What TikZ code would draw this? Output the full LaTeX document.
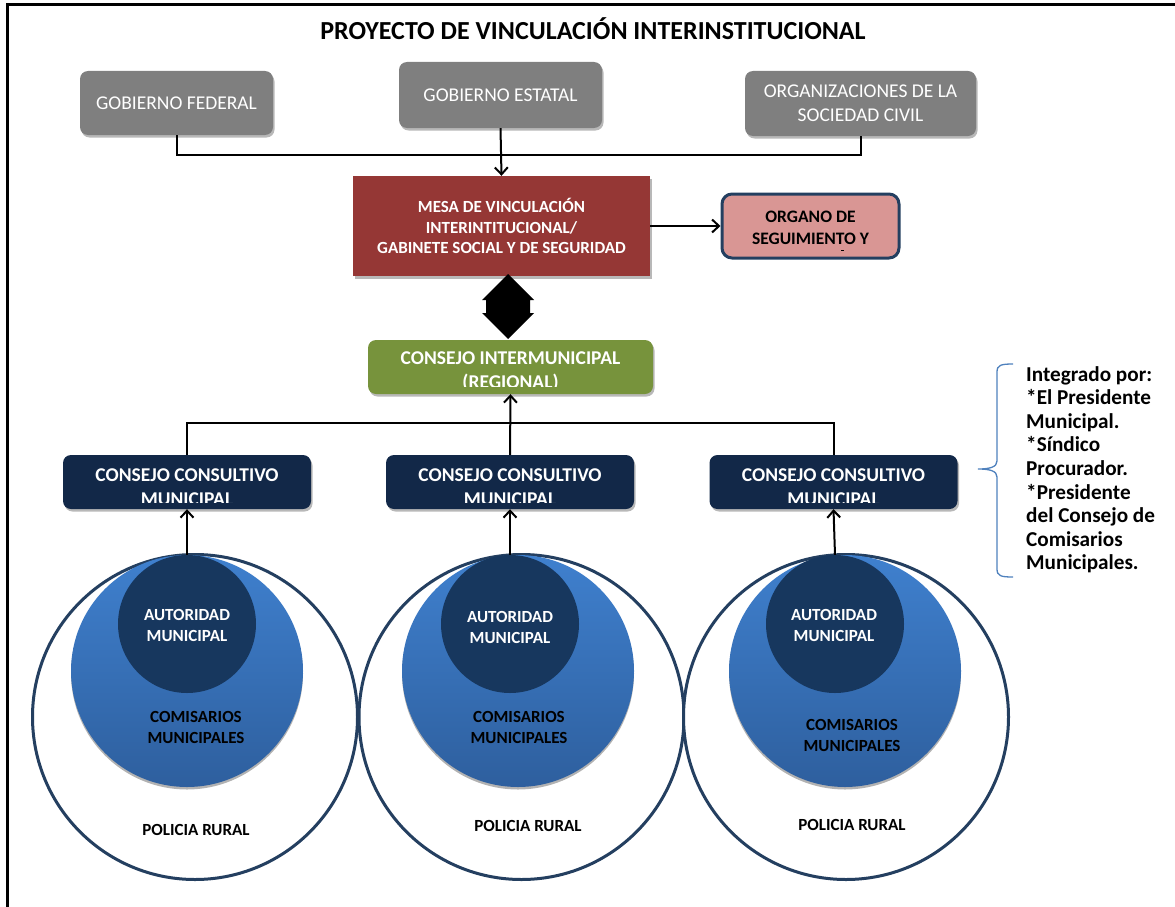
\documentclass[tikz,border=0pt]{standalone}
\usepackage{fontspec}
\setmainfont{Carlito}
\usetikzlibrary{arrows.meta,shadows,calc}

\definecolor{boxgray}{HTML}{7F7F7F}
\definecolor{mesared}{HTML}{953735}
\definecolor{organopink}{HTML}{D99694}
\definecolor{framenavy}{HTML}{243F60}
\definecolor{regiongreen}{HTML}{77933C}
\definecolor{consnavy}{HTML}{122848}
\definecolor{authblue}{HTML}{17375E}
\definecolor{comtop}{HTML}{3F80CE}
\definecolor{combot}{HTML}{2E5F9E}
\definecolor{bracblue}{HTML}{4F81BD}

\newcommand{\fs}[2]{\fontsize{#1}{#2}\selectfont}

\begin{document}
\begin{tikzpicture}[x=1pt,y=-1pt,
  conn/.style={line width=2pt,black},
  arr/.style={conn,-{Straight Barb[length=7pt,width=13pt]}},
  softshadow/.style={drop shadow={shadow xshift=1.5pt,shadow yshift=-2.5pt,fill=black,opacity=0.28}},
  govbox/.style={rounded corners=8pt,fill=boxgray,text=white,inner sep=0pt,
    align=center,font=\fs{19.5}{24},softshadow},
  mesabox/.style={fill=mesared,text=white,inner sep=0pt,align=center,
    font=\bfseries\fs{17}{20.5},softshadow},
  organobox/.style={rounded corners=10pt,fill=organopink,draw=framenavy,line width=3pt,
    inner sep=0pt,align=center,font=\bfseries\fs{17.5}{22}},
  regionbox/.style={rounded corners=8pt,fill=regiongreen,inner sep=0pt,softshadow},
  consbox/.style={rounded corners=8pt,fill=consnavy,inner sep=0pt,softshadow},
  boxtext/.style={text=white,inner sep=0pt,align=center,font=\bfseries\fs{19.5}{24}},
  ring/.style={circle,draw=framenavy,line width=3pt,fill=white,inner sep=0pt},
  combubble/.style={circle,top color=comtop,bottom color=combot,inner sep=0pt,
    drop shadow={shadow xshift=0pt,shadow yshift=-2.5pt,fill=black,opacity=0.3}},
  authbubble/.style={circle,fill=authblue,inner sep=0pt},
  circtext/.style={inner sep=0pt,align=center,font=\bfseries\fs{17}{21}},
  bracketline/.style={draw=bracblue,line width=1.3pt}
]
\useasboundingbox (0,0) rectangle (1175,907);

% page frame (left and top rules)
\draw[line width=3pt] (7,907) -- (7,5) -- (1175,5);

% title
\node[inner sep=0pt,font=\bfseries\fs{26}{30}] (title) at (593,28.5) {PROYECTO DE VINCULACIÓN INTERINSTITUCIONAL};

% government and civil society
\node[govbox,minimum width=193pt,minimum height=64pt] (fed) at (176.5,103) {GOBIERNO FEDERAL};
\node[govbox,minimum width=203pt,minimum height=66pt] (est) at (500.5,95) {GOBIERNO ESTATAL};
\node[govbox,minimum width=231pt,minimum height=65pt] (osc) at (860.5,103.5) {ORGANIZACIONES DE LA\\SOCIEDAD CIVIL};

% coordinating table and follow-up body
\node[mesabox,minimum width=297pt,minimum height=100pt] (mesa) at (501.5,226)
  {MESA DE VINCULACIÓN\\INTERINTITUCIONAL/\\GABINETE SOCIAL Y DE SEGURIDAD};
\node[organobox,minimum width=177pt,minimum height=64pt] (organo) at (810.5,226) {};
\node[inner sep=0pt,align=center,font=\bfseries\fs{17.5}{22}] (organot) at (810.5,227.5) {ORGANO DE\\SEGUIMIENTO Y};
\draw[line width=1pt] (841,250.5) -- (844,250.5);

% regional council
\node[regionbox,minimum width=285pt,minimum height=54pt] (imc) at (510.5,367) {};
\begin{scope}
  \clip (368,340) rectangle (653,386.8);
  \node[boxtext,font=\bfseries\fs{19.5}{24}] (imct) at (510.5,372) {CONSEJO INTERMUNICIPAL\\(REGIONAL)};
\end{scope}

% municipal advisory councils
\foreach \i/\cx in {1/187,2/510,3/833.5}{
  \node[consbox,minimum width=248pt,minimum height=54pt] (cc\i) at (\cx,482) {};
  \begin{scope}
    \clip (\cx-124,455) rectangle (\cx+124,502);
    \node[boxtext] (cc\i t) at (\cx,487) {CONSEJO CONSULTIVO\\MUNICIPAL};
  \end{scope}
}

% nested circles: rural police, commissioners, municipal authority
\foreach \i/\px/\cxm/\ax in {1/195/187/187,2/521.5/518/510,3/846/845/835}{
  \node[ring,minimum size=325pt] (pol\i) at (\px,717) {};
  \node[combubble,minimum size=232pt] (com\i) at (\cxm,671) {};
  \node[authbubble,minimum size=138pt] (aut\i) at (\ax,624) {};
}
\node[circtext,text=white] (aut1t) at (187,625.5) {AUTORIDAD\\MUNICIPAL};
\node[circtext,text=white] (aut2t) at (510,627.5) {AUTORIDAD\\MUNICIPAL};
\node[circtext,text=white] (aut3t) at (834,625.5) {AUTORIDAD\\MUNICIPAL};
\node[circtext] (com1t) at (196,727.5) {COMISARIOS\\MUNICIPALES};
\node[circtext] (com2t) at (519,727.5) {COMISARIOS\\MUNICIPALES};
\node[circtext] (com3t) at (852,735.5) {COMISARIOS\\MUNICIPALES};
\node[circtext] (pol1t) at (196,830) {POLICIA RURAL};
\node[circtext] (pol2t) at (528,826) {POLICIA RURAL};
\node[circtext] (pol3t) at (852,825) {POLICIA RURAL};

% connectors
\coordinate (govbar) at (est.south |- 0,155);
\draw[conn] (fed.south) |- (govbar) -| (osc.south);
\draw[arr] (est.south) -- (mesa.north);
\draw[arr] (mesa.east) -- (organo.west);

% two-way link between the table and the regional council
\fill[black] (508,274) -- (534,300) -- (530,300) -- (530,313) -- (534,313)
  -- (508,339) -- (482,313) -- (486,313) -- (486,300) -- (482,300) -- cycle;

\coordinate (ccbar) at (cc1.north |- 0,423);
\draw[conn] (cc1.north) |- (ccbar) -| (cc3.north);
\draw[arr] (cc2.north) -- (imc.south);
\foreach \i in {1,2,3}{
  \draw[arr] (aut\i.north) -- (cc\i.south);
}

% membership note
\draw[bracketline] (1013,364) .. controls (1001,364) and (997,365) .. (997,372)
  -- (997,461) .. controls (997,467) and (990,469) .. (978,469)
  .. controls (990,469) and (997,471) .. (997,477)
  -- (997,569) .. controls (997,576) and (1001,577) .. (1013,577);
\node[anchor=north west,inner sep=0pt,align=left,font=\bfseries\fs{21.2}{23.6}] (note) at (1026,366)
  {Integrado por:\\*El Presidente\\Municipal.\\*Síndico\\Procurador.\\*Presidente\\del Consejo de\\Comisarios\\Municipales.};

\end{tikzpicture}
\end{document}
